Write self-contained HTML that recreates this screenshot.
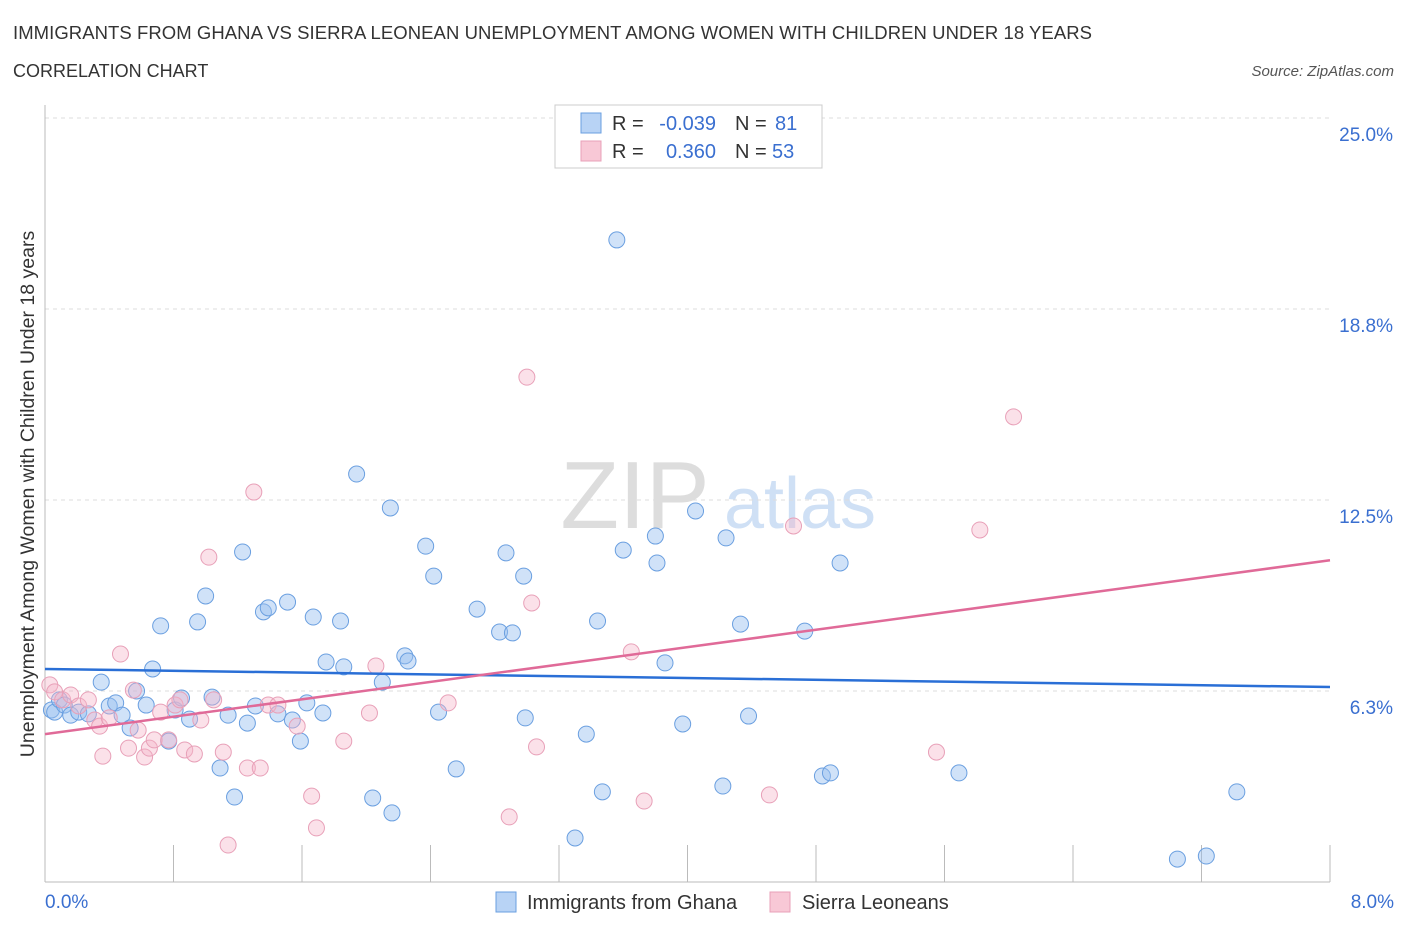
<!DOCTYPE html>
<html><head><meta charset="utf-8"><style>
body{margin:0;background:#fff;font-family:"Liberation Sans",sans-serif;}
svg text{font-family:"Liberation Sans",sans-serif;}
</style></head><body>
<svg id="c" width="1406" height="930">
<text x="13" y="39" font-size="18.5" fill="#333" textLength="1079">IMMIGRANTS FROM GHANA VS SIERRA LEONEAN UNEMPLOYMENT AMONG WOMEN WITH CHILDREN UNDER 18 YEARS</text>
<text x="13" y="77" font-size="18" fill="#333">CORRELATION CHART</text>
<text x="1394" y="76" font-size="15" fill="#555" font-style="italic" text-anchor="end">Source: ZipAtlas.com</text>
<text x="635" y="528" font-size="96" fill="#ddd" font-family="Liberation Serif" text-anchor="middle">ZIP</text>
<text x="800" y="528" font-size="72" fill="#cfe0f5" text-anchor="middle">atlas</text>
<g id="grid"></g><g id="pts"></g><g id="lines"></g>
<text x="34" y="494" font-size="19.5" fill="#333" text-anchor="middle" transform="rotate(-90 34 494)">Unemployment Among Women with Children Under 18 years</text>
<text x="45" y="908" font-size="19" fill="#3a6fd0">0.0%</text>
<text x="1394" y="908" font-size="19" fill="#3a6fd0" text-anchor="end">8.0%</text>
<g>
<rect x="555" y="105" width="267" height="63" fill="#fff" stroke="#ccc"/>
<rect x="581" y="113" width="20" height="20" fill="#b8d3f5" stroke="#6a9fe0"/>
<rect x="581" y="141" width="20" height="20" fill="#f8c8d6" stroke="#e8a0b8"/>
<text x="612" y="130" font-size="20" fill="#333">R =</text>
<text x="716" y="130" font-size="20" fill="#3a6fd0" text-anchor="end">-0.039</text>
<text x="735" y="130" font-size="20" fill="#333">N =</text>
<text x="775" y="130" font-size="20" fill="#3a6fd0">81</text>
<text x="612" y="158" font-size="20" fill="#333">R =</text>
<text x="716" y="158" font-size="20" fill="#3a6fd0" text-anchor="end">0.360</text>
<text x="735" y="158" font-size="20" fill="#333">N =</text>
<text x="772" y="158" font-size="20" fill="#3a6fd0">53</text>
</g>
<g>
<rect x="496" y="892" width="20" height="20" fill="#b8d3f5" stroke="#6a9fe0"/>
<text x="527" y="909" font-size="20" fill="#333">Immigrants from Ghana</text>
<rect x="770" y="892" width="20" height="20" fill="#f8c8d6" stroke="#e8a0b8"/>
<text x="802" y="909" font-size="20" fill="#333">Sierra Leoneans</text>
</g>
</svg>
<script>
const yTicks=[6.25,12.5,18.75,25];
const yTickLabels=["6.3%","12.5%","18.8%","25.0%"];
const blueX=[0.04,0.06,0.09,0.12,0.16,0.21,0.27,0.35,0.40,0.44,0.48,0.53,0.57,0.63,0.67,0.72,0.77,0.81,0.85,0.90,0.95,1.00,1.04,1.09,1.14,1.18,1.23,1.26,1.31,1.36,1.39,1.45,1.51,1.54,1.59,1.63,1.67,1.73,1.75,1.84,1.86,1.94,2.04,2.10,2.15,2.16,2.24,2.26,2.37,2.42,2.45,2.56,2.69,2.83,2.87,2.91,2.98,2.99,3.30,3.37,3.44,3.47,3.56,3.60,3.80,3.81,3.86,3.97,4.05,4.22,4.24,4.33,4.38,4.73,4.84,4.89,4.95,5.69,7.05,7.23,7.42];
const blueY=[5.63,5.56,5.96,5.79,5.46,5.56,5.50,6.54,5.76,5.86,5.46,5.04,6.25,5.79,6.97,8.38,4.61,5.63,6.02,5.33,8.51,9.36,6.05,3.73,5.46,2.78,10.80,5.20,5.76,8.84,8.97,5.50,9.16,5.30,4.61,5.86,8.67,5.53,7.20,8.54,7.04,13.35,2.75,6.54,12.24,2.26,7.40,7.23,10.99,10.01,5.56,3.70,8.93,8.18,10.77,8.15,10.01,5.37,1.44,4.84,8.54,2.95,21.01,10.86,11.32,10.44,7.17,5.17,12.14,3.14,11.26,8.44,5.43,8.21,3.47,3.57,10.44,3.57,0.75,0.85,2.95];
const pinkX=[0.03,0.06,0.11,0.16,0.21,0.27,0.31,0.34,0.36,0.40,0.47,0.52,0.55,0.58,0.62,0.65,0.68,0.72,0.77,0.81,0.84,0.87,0.93,0.97,1.02,1.05,1.11,1.14,1.26,1.30,1.34,1.39,1.45,1.57,1.66,1.69,1.86,2.02,2.06,2.51,2.89,3.00,3.03,3.06,3.65,3.73,4.51,4.66,5.55,5.82,6.03];
const pinkY=[6.45,6.22,5.96,6.12,5.76,5.96,5.30,5.10,4.12,5.37,7.46,4.38,6.28,4.97,4.09,4.38,4.65,5.56,4.65,5.79,5.96,4.32,4.19,5.30,10.63,5.96,4.25,1.21,3.73,12.76,3.73,5.79,5.79,5.10,2.81,1.77,4.61,5.53,7.07,5.86,2.13,16.52,9.13,4.42,7.53,2.65,2.85,11.65,4.25,11.52,15.22];
const blueTrend=[6.97,6.38];
const pinkTrend=[4.84,10.53];
const NS="http://www.w3.org/2000/svg";
const X0=45,X1=1330,Y0=882,YT=118;
const sx=v=>X0+(X1-X0)*v/8;
const sy=v=>Y0-(Y0-YT)*v/25;
function mk(t,a,p){const e=document.createElementNS(NS,t);for(const k in a)e.setAttribute(k,a[k]);p.appendChild(e);return e;}
const grid=document.getElementById('grid');
yTicks.forEach((t,i)=>{
 const l=mk('line',{x1:X0,x2:X1,y1:sy(t),y2:sy(t),stroke:'#ddd','stroke-dasharray':'4 4'},grid);
 
 
 const tx=mk('text',{x:1393,y:sy(t)+23,'font-size':19,fill:'#3a6fd0','text-anchor':'end'},grid);
 tx.textContent=yTickLabels[i];
 
 
});
const ax=mk('line',{x1:X0,x2:X0,y1:105,y2:Y0,stroke:'#bbb'},grid);


const bx=mk('line',{x1:X0,x2:X1,y1:Y0,y2:Y0,stroke:'#bbb'},grid);


for(let i=1;i<=10;i++){
 const t=mk('line',{x1:sx(i*0.8),x2:sx(i*0.8),y1:Y0,y2:845,stroke:'#bbb'},grid);
 
 
}
const pts=document.getElementById('pts');
blueX.forEach((x,i)=>{
 const c=mk('circle',{cx:sx(x),cy:sy(blueY[i]),r:8,fill:'rgba(150,190,240,0.45)',stroke:'#6a9fe0','stroke-width':1},pts);
 
 
});
pinkX.forEach((x,i)=>{
 const c=mk('circle',{cx:sx(x),cy:sy(pinkY[i]),r:8,fill:'rgba(245,180,200,0.4)',stroke:'#e8a0b8','stroke-width':1},pts);
 
 
});
const lines=document.getElementById('lines');
const bl=mk('line',{x1:sx(0),y1:sy(blueTrend[0]),x2:sx(8),y2:sy(blueTrend[1]),stroke:'#2a6fd6','stroke-width':2.5},lines);


const pl=mk('line',{x1:sx(0),y1:sy(pinkTrend[0]),x2:sx(8),y2:sy(pinkTrend[1]),stroke:'#e06a98','stroke-width':2.5},lines);


</script>
</body></html>
